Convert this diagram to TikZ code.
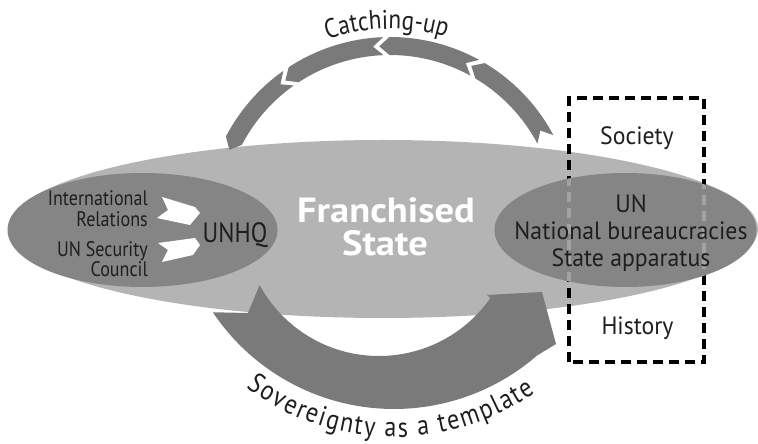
\documentclass[tikz,border=0pt]{standalone}
\usepackage{fontspec}
\setmainfont{PT Sans}[FakeStretch=0.86]
\newfontfamily\widefam{PT Sans}[FakeStretch=1.1]
\newfontfamily\rfam{PT Sans}[FakeStretch=0.95]
\usetikzlibrary{shapes.geometric,decorations.text}
\definecolor{biggray}{HTML}{B4B4B4}
\definecolor{ellgray}{HTML}{858585}
\definecolor{arrgray}{HTML}{7A7A7A}
\definecolor{textcol}{HTML}{1E1E1E}
\definecolor{faintdash}{HTML}{A2A2A2}
\newcommand\catseg[2]{\fill[arrgray] (#1:185pt) arc[start angle=#1,end angle=#2,radius=185pt] -- ({#2+3.3}:176pt) -- (#2:167pt) arc[start angle=#2,end angle=#1,radius=167pt] -- ({#1+3.3}:176pt) -- cycle;}
\begin{document}
\begin{tikzpicture}[x=1pt,y=1pt,
  lbl/.style={text=textcol, inner sep=0pt, font=\fontsize{21}{24}\selectfont},
  rlbl/.style={text=textcol, inner sep=0pt, font=\rfam\fontsize{25}{28}\selectfont},
  blob/.style={ellipse, inner sep=0pt, fill=ellgray},
  boxdash/.style={line width=4pt, dash pattern=on 10pt off 6pt}]
\useasboundingbox (0,0) rectangle (758,444);
\fill[white] (0,0) rectangle (758,444);
% big ellipse
\node[ellipse, inner sep=0pt, fill=biggray, minimum width=750pt, minimum height=178pt] (big) at (383,215) {};
% lower arrow
\fill[arrgray] (394,253) ++(213.8:218pt) arc[start angle=213.8,end angle=311,radius=218pt]
  -- (556,100) -- (542,152) -- (487,149)
  -- ++(3.4,-3) arc[start angle=325,end angle=208.6,radius=136pt] -- (248,131) -- cycle;
% catching-up segments
\begin{scope}[shift={(390,222)}]
\catseg{28}{59.2}
\catseg{61.2}{90.2}
\catseg{92.2}{123.2}
\catseg{125.2}{152.5}
\end{scope}
% dashed box
\coordinate (boxsw) at (569,82);
\coordinate (boxne) at (704,346);
\draw[boxdash] (boxsw) rectangle (boxne);
% small ellipses
\node[blob, minimum width=270pt, minimum height=114pt] (left) at (142.5,214) {};
\node[blob, minimum width=262pt, minimum height=114pt] (right) at (625.5,214) {};
\begin{scope}
\clip (625.5,214) ellipse[x radius=131pt, y radius=57pt];
\draw[boxdash, faintdash] (boxsw) rectangle (boxne);
\end{scope}
% white chevrons
\fill[white] (162,247) -- (195,237) -- (200,231) -- (190,219) -- (157,226) -- (168,234) -- cycle;
\fill[white] (158,201) -- (195,206) -- (200,199) -- (193,189) -- (162,182) -- (168,194) -- cycle;
% left texts
\node[lbl, anchor=base east] (ir1) at (148,238) {International};
\node[lbl, anchor=base east] (ir2) at (148,217) {Relations};
\node[lbl, anchor=base east] (sc1) at (148,187) {UN Security};
\node[lbl, anchor=base east] (sc2) at (148,167) {Council};
\node[text=textcol, inner sep=0pt, anchor=base, font=\fontsize{28}{30}\selectfont] (unhq) at (235,201) {UNHQ};
% franchised state
\node[text=white, inner sep=0pt, anchor=base, font=\widefam\bfseries\fontsize{35}{38}\selectfont] (fs1) at (386,221) {Franchised};
\node[text=white, inner sep=0pt, anchor=base, font=\widefam\bfseries\fontsize{35}{38}\selectfont] (fs2) at (385,188) {State};
% right texts
\node[rlbl, anchor=base] (un) at (631,231) {UN};
\node[rlbl, anchor=base] (nb) at (631,204) {National bureaucracies};
\node[rlbl, anchor=base] (sa) at (631,177) {State apparatus};
\node[rlbl, anchor=base] (soc) at (637,299) {Society};
\node[rlbl, anchor=base] (his) at (637.5,109) {History};
% curved labels
\path[decorate, decoration={text along path, text align=center, text color=textcol,
  text={|\fontsize{27}{29}\selectfont|Catching-up}}]
  (390,222) ++(120:193pt) arc[start angle=120,end angle=62,radius=193pt];
\path[decorate, decoration={text along path, text align=fit to path, text color=textcol,
  text={|\fontsize{28}{30}\selectfont|Sovereignty as a template}}]
  (394,253) ++(233:246pt) arc[start angle=233,end angle=305,radius=246pt];
\end{tikzpicture}
\end{document}
